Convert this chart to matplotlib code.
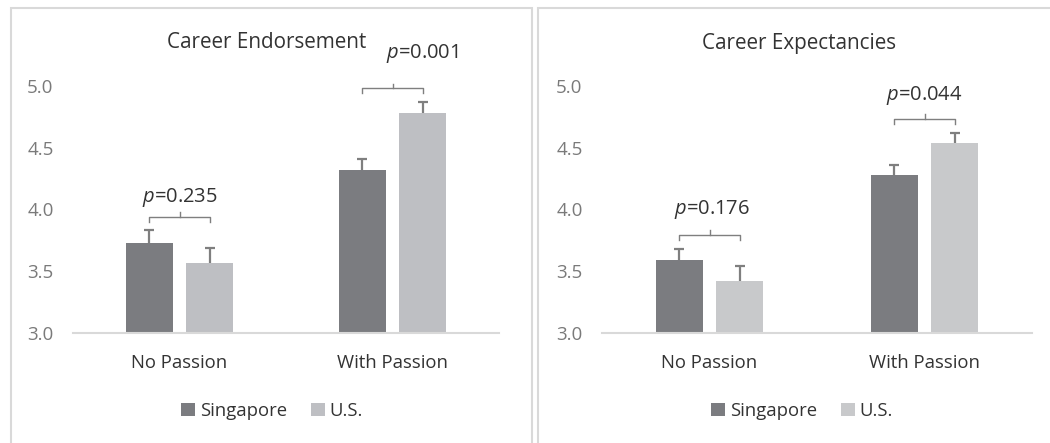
import matplotlib
matplotlib.use("Agg")
import matplotlib.pyplot as plt
from matplotlib.patches import Rectangle, Patch

plt.rcParams['font.family'] = ['Open Sans', 'DejaVu Sans']
plt.rcParams['mathtext.fontset'] = 'custom'
plt.rcParams['mathtext.it'] = 'Open Sans:italic'
plt.rcParams['mathtext.rm'] = 'Open Sans'

categories = ["No Passion", "With Passion"]
series = ["Singapore", "U.S."]

titles = ["Career Endorsement", "Career Expectancies"]

endorse_sg = [3.73, 4.32]
endorse_us = [3.57, 4.78]
endorse_sg_err = [0.10, 0.09]
endorse_us_err = [0.12, 0.09]
endorse_p = ["0.235", "0.001"]

expect_sg = [3.59, 4.28]
expect_us = [3.42, 4.54]
expect_sg_err = [0.09, 0.08]
expect_us_err = [0.12, 0.08]
expect_p = ["0.176", "0.044"]

yticks = [3.0, 3.5, 4.0, 4.5, 5.0]

W, H = 1050, 443
fig = plt.figure(figsize=(W / 100, H / 100), dpi=100)

def fx(px):
    return px / W

def fy(py):
    return 1 - py / H

# panel borders
border_col = "#d9d9d9"
fig.add_artist(Rectangle((fx(11), fy(460)), fx(532 - 11), (460 - 8) / H, fill=False,
                         edgecolor=border_col, linewidth=1.5, transform=fig.transFigure))
fig.add_artist(Rectangle((fx(538), fy(460)), fx(1070 - 538), (460 - 8) / H, fill=False,
                         edgecolor=border_col, linewidth=1.5, transform=fig.transFigure))

panels = [
    dict(left=73, right=499, sg=endorse_sg, us=endorse_us, sge=endorse_sg_err, use=endorse_us_err,
         p=endorse_p, us_col="#bebfc3", title=titles[0], title_x=267,
         text_off=[0.16, 0.28], text_dx=[0.0, 0.14], leg_x=272),
    dict(left=602, right=1032, sg=expect_sg, us=expect_us, sge=expect_sg_err, use=expect_us_err,
         p=expect_p, us_col="#c8c9cb", title=titles[1], title_x=799,
         text_off=[0.21, 0.195], text_dx=[0.01, 0.0], leg_x=802),
]

sg_col = "#7b7c80"
err_col = "#7f7f7f"
tick_col = "#7a7a7a"
text_col = "#333333"
bw = 0.22
off = 0.141

for pn in panels:
    ax = fig.add_axes([fx(pn['left']), fy(333), fx(pn['right'] - pn['left']), (333 - 86) / H])
    x = list(range(len(categories)))
    xs = [i - off for i in x]
    xu = [i + off for i in x]
    ax.bar(xs, [v - 3.0 for v in pn['sg']], bottom=3.0, width=bw, color=sg_col, zorder=2)
    ax.bar(xu, [v - 3.0 for v in pn['us']], bottom=3.0, width=bw, color=pn['us_col'], zorder=2)
    for xx, vals, errs in ((xs, pn['sg'], pn['sge']), (xu, pn['us'], pn['use'])):
        eb = ax.errorbar(xx, vals, yerr=[[0] * len(x), errs], fmt='none', ecolor=err_col,
                         elinewidth=1.6, capsize=3.8, capthick=1.6, zorder=3)
        caps = eb[1]
        if len(caps) >= 2:
            caps[0].set_visible(False)
    ax.set_xlim(-0.5, 1.5)
    ax.set_ylim(3.0, 5.0)
    ax.set_yticks(yticks)
    ax.set_yticklabels([f"{t:.1f}" for t in yticks])
    ax.set_xticks(x)
    ax.set_xticklabels(categories)
    for s in ['top', 'right', 'left']:
        ax.spines[s].set_visible(False)
    ax.spines['bottom'].set_color("#d9d9d9")
    ax.spines['bottom'].set_linewidth(1.5)
    ax.tick_params(axis='y', length=0, labelsize=13.5, labelcolor=tick_col, pad=14)
    ax.tick_params(axis='x', length=0, labelsize=13.3, labelcolor=text_col, pad=15)
    # brackets and p-values
    for i in x:
        top = max(pn['sg'][i] + pn['sge'][i], pn['us'][i] + pn['use'][i])
        by = top + 0.11
        ax.plot([xs[i], xs[i], xu[i], xu[i]], [by - 0.04, by, by, by - 0.04], color=err_col,
                lw=1.0, clip_on=False, zorder=4)
        ax.plot([i, i], [by, by + 0.04], color=err_col, lw=1.0, clip_on=False, zorder=4)
        ax.text(i + pn['text_dx'][i], by + pn['text_off'][i], r"$\it{p}$=" + pn['p'][i],
                ha='center', va='center', fontsize=14.5, color=text_col, clip_on=False)
    fig.text(fx(pn['title_x']), fy(43), pn['title'], ha='center', va='center',
             fontsize=14.9, color=text_col)
    handles = [Patch(facecolor=sg_col, edgecolor='none'), Patch(facecolor=pn['us_col'], edgecolor='none')]
    fig.legend(handles, series, loc='center', bbox_to_anchor=(fx(pn['leg_x']), fy(411)),
               ncol=2, frameon=False, fontsize=13.3, handlelength=0.75, handleheight=0.75,
               handletextpad=0.25, columnspacing=1.3, labelcolor=text_col)

fig.savefig("out.png", dpi=100)
